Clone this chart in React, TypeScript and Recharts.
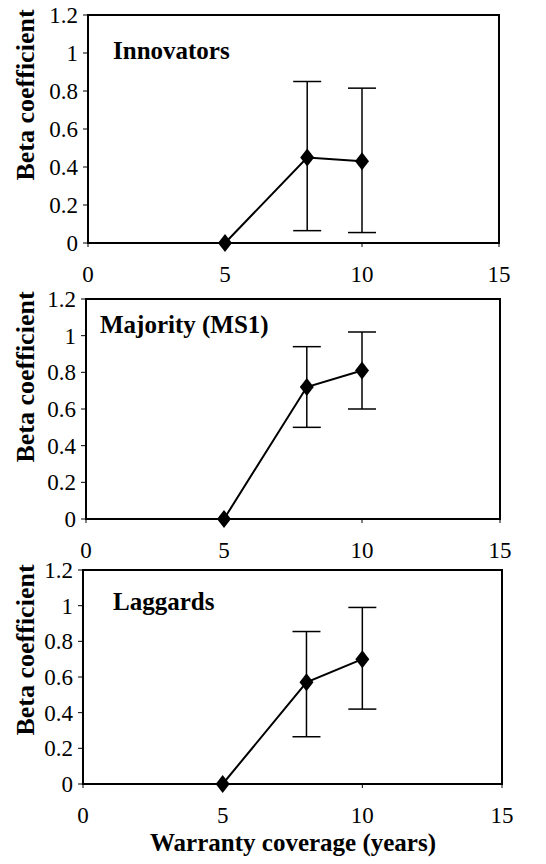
import { LineChart, Line, XAxis, YAxis, ErrorBar, ReferenceArea, Label } from "recharts";

const WARRANTY_YEARS = [5, 8, 10];
const X_TICKS = [0, 5, 10, 15];
const Y_TICKS = [0, 0.2, 0.4, 0.6, 0.8, 1, 1.2];

const INNOVATORS_BETA = [0, 0.45, 0.43];
const INNOVATORS_HIGH = [null, 0.85, 0.815];
const INNOVATORS_LOW = [null, 0.065, 0.055];

const MAJORITY_BETA = [0, 0.72, 0.81];
const MAJORITY_HIGH = [null, 0.94, 1.02];
const MAJORITY_LOW = [null, 0.5, 0.6];

const LAGGARDS_BETA = [0, 0.57, 0.7];
const LAGGARDS_HIGH = [null, 0.855, 0.99];
const LAGGARDS_LOW = [null, 0.265, 0.42];

const FONT = '"Liberation Serif", "Times New Roman", serif';
const INK = "#000";

type Row = { x: number; beta: number; err: [number, number] | null };

function rows(beta: number[], hi: (number | null)[], lo: (number | null)[]): Row[] {
  return WARRANTY_YEARS.map((x, i) => {
    const h = hi[i];
    const l = lo[i];
    return {
      x,
      beta: beta[i],
      err: h == null || l == null ? null : [beta[i] - l, h - beta[i]],
    };
  });
}

function Diamond(props: any) {
  const { cx, cy, index } = props;
  if (cx == null || cy == null) return <g key={`d${index}`} />;
  return (
    <path
      key={`d${index}`}
      d={`M${cx},${cy - 9} L${cx + 7},${cy} L${cx},${cy + 9} L${cx - 7},${cy} Z`}
      fill={INK}
    />
  );
}

type PanelProps = {
  title: string;
  data: Row[];
  top: number;
  left: number;
  right: number;
  plotH: number;
  axisH: number;
  titleTop: number;
  titleLeft: number;
  labelShift: number;
  xTitle?: string;
};

function Panel({ title, data, top, left, right, plotH, axisH, titleTop, titleLeft, labelShift, xTitle }: PanelProps) {
  const height = 15 + plotH + axisH;
  return (
    <div style={{ position: "absolute", top, left: 0, width: 546, height }}>
      <LineChart
        width={546}
        height={height}
        data={data}
        margin={{ top: 15, right: 546 - right, bottom: 0, left: 0 }}
      >
        <XAxis
          dataKey="x"
          type="number"
          domain={[0, 15]}
          ticks={X_TICKS}
          height={axisH}
          tick={{ fill: INK, fontSize: 23, fontFamily: FONT }}
          tickSize={4}
          tickMargin={19}
          axisLine={{ stroke: INK, strokeWidth: 2 }}
          tickLine={{ stroke: INK }}
        >
          {xTitle && (
            <Label
              content={(p: any) => {
                const vb = p.viewBox || {};
                return (
                  <text
                    x={293}
                    y={vb.y + 67}
                    textAnchor="middle"
                    fontFamily={FONT}
                    fontWeight="bold"
                    fontSize={25}
                    fill={INK}
                  >
                    {xTitle}
                  </text>
                );
              }}
            />
          )}
        </XAxis>
        <YAxis
          type="number"
          domain={[0, 1.2]}
          ticks={Y_TICKS}
          width={left}
          tick={{ fill: INK, fontSize: 23, fontFamily: FONT }}
          tickFormatter={(v: number) => String(v)}
          tickSize={5}
          tickMargin={5}
          axisLine={{ stroke: INK, strokeWidth: 2 }}
          tickLine={{ stroke: INK }}
        >
          <Label
            content={(p: any) => {
              const vb = p.viewBox || {};
              const cy = vb.y + vb.height / 2 + labelShift;
              return (
                <text
                  x={25}
                  y={cy}
                  transform={`rotate(-90, 25, ${cy})`}
                  textAnchor="middle"
                  dominantBaseline="central"
                  fontFamily={FONT}
                  fontWeight="bold"
                  fontSize={26}
                  fill={INK}
                >
                  Beta coefficient
                </text>
              );
            }}
          />
        </YAxis>
        <ReferenceArea
          x1={0}
          x2={15}
          y1={0}
          y2={1.2}
          fill="none"
          stroke={INK}
          strokeWidth={2}
          ifOverflow="visible"
        />
        <Line
          dataKey="beta"
          type="linear"
          stroke={INK}
          strokeWidth={2}
          dot={Diamond}
          activeDot={false}
          isAnimationActive={false}
        >
          <ErrorBar dataKey="err" direction="y" width={14} stroke={INK} strokeWidth={1.5} isAnimationActive={false} />
        </Line>
      </LineChart>
      <div
        style={{
          position: "absolute",
          top: titleTop,
          left: titleLeft,
          fontFamily: FONT,
          fontWeight: "bold",
          fontSize: 25,
          lineHeight: 1,
          color: INK,
          whiteSpace: "nowrap",
        }}
      >
        {title}
      </div>
    </div>
  );
}

export default function App() {
  return (
    <div style={{ position: "absolute", top: 0, left: 0, width: 546, height: 864, background: "#fff" }}>
      <Panel
        title="Innovators"
        data={rows(INNOVATORS_BETA, INNOVATORS_HIGH, INNOVATORS_LOW)}
        top={0}
        left={88}
        right={499}
        plotH={228}
        axisH={47}
        titleTop={38}
        titleLeft={113}
        labelShift={-34}
      />
      <Panel
        title="Majority (MS1)"
        data={rows(MAJORITY_BETA, MAJORITY_HIGH, MAJORITY_LOW)}
        top={284}
        left={86}
        right={500}
        plotH={220}
        axisH={50}
        titleTop={312 - 284}
        titleLeft={100}
        labelShift={-32}
      />
      <Panel
        title="Laggards"
        data={rows(LAGGARDS_BETA, LAGGARDS_HIGH, LAGGARDS_LOW)}
        top={555}
        left={83}
        right={502}
        plotH={214}
        axisH={80}
        titleTop={589 - 555}
        titleLeft={113}
        labelShift={-27}
        xTitle="Warranty coverage (years)"
      />
    </div>
  );
}
